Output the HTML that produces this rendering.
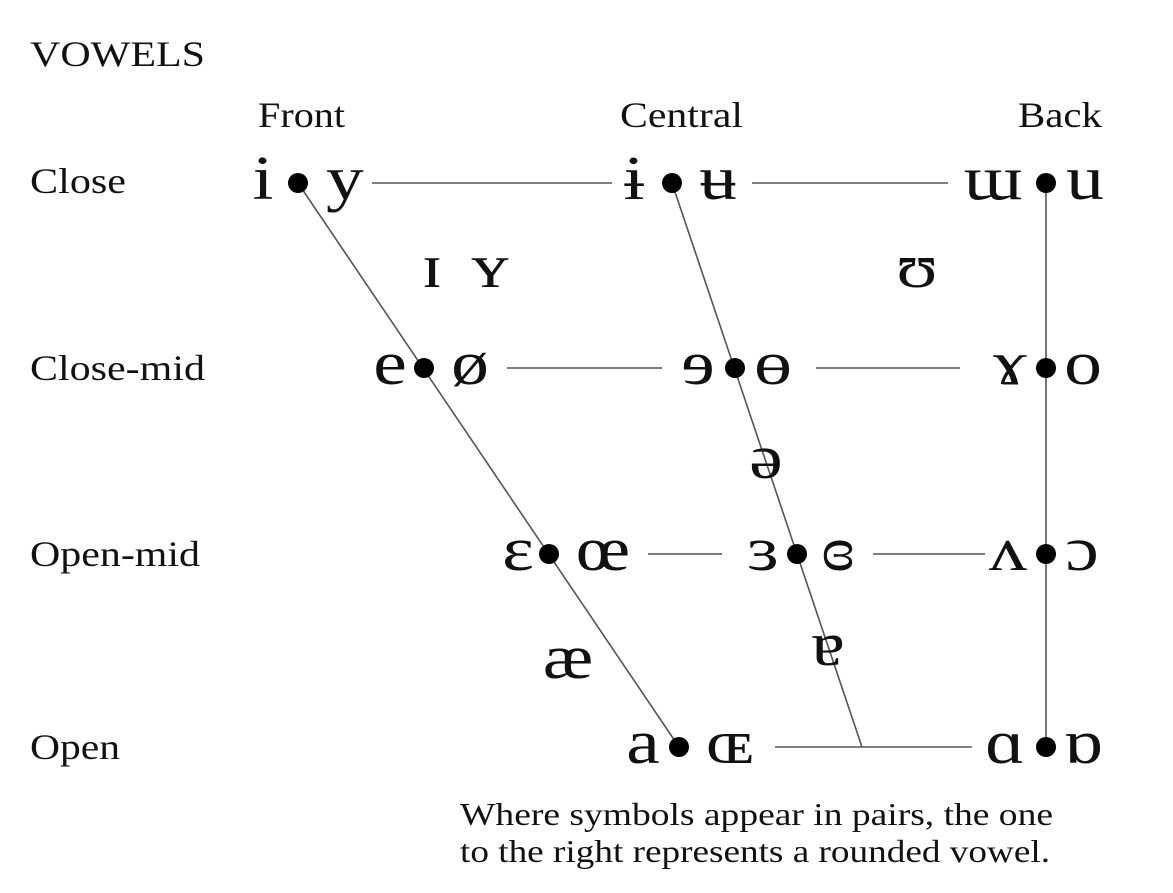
<!DOCTYPE html>
<html><head><meta charset="utf-8"><style>
html,body{margin:0;padding:0;background:#fff;}
svg{display:block;}
text{font-family:"Liberation Serif","DejaVu Serif",serif;fill:#111;}
.v{font-size:62px;text-anchor:middle;transform-box:fill-box;transform-origin:center;transform:scaleX(1.22);}
.l{font-size:36px;}
.f{font-size:32px;}
</style></head><body>
<svg width="1173" height="893" viewBox="0 0 1173 893">
<g stroke="#555" stroke-width="1.6" fill="none">
<line x1="298" y1="183" x2="679" y2="747"/>
<line x1="672" y1="183" x2="862" y2="747"/>
<line x1="1046" y1="183" x2="1046" y2="747"/>
<line x1="372" y1="183" x2="612" y2="183"/>
<line x1="752" y1="183" x2="948" y2="183"/>
<line x1="507" y1="368" x2="662" y2="368"/>
<line x1="816" y1="368" x2="960" y2="368"/>
<line x1="648" y1="554" x2="722" y2="554"/>
<line x1="873" y1="554" x2="985" y2="554"/>
<line x1="775" y1="747" x2="972" y2="747"/>
</g>
<g fill="#000">
<circle cx="298" cy="183" r="10"/><circle cx="672" cy="183" r="10"/><circle cx="1046" cy="183" r="10"/>
<circle cx="424" cy="368" r="10"/><circle cx="735" cy="368" r="10"/><circle cx="1046" cy="368" r="10"/>
<circle cx="549" cy="554" r="10"/><circle cx="797" cy="554" r="10"/><circle cx="1046" cy="554" r="10"/>
<circle cx="679" cy="747" r="10"/><circle cx="1046" cy="747" r="10"/>
</g>
<text class="l" x="30" y="66" textLength="175" lengthAdjust="spacingAndGlyphs">VOWELS</text>
<text class="l" x="258" y="127" textLength="87" lengthAdjust="spacingAndGlyphs">Front</text>
<text class="l" x="620" y="127" textLength="123" lengthAdjust="spacingAndGlyphs">Central</text>
<text class="l" x="1018" y="127" textLength="84" lengthAdjust="spacingAndGlyphs">Back</text>
<text class="l" x="30" y="193" textLength="96" lengthAdjust="spacingAndGlyphs">Close</text>
<text class="l" x="30" y="380" textLength="175" lengthAdjust="spacingAndGlyphs">Close-mid</text>
<text class="l" x="30" y="566" textLength="170" lengthAdjust="spacingAndGlyphs">Open-mid</text>
<text class="l" x="30" y="759" textLength="90" lengthAdjust="spacingAndGlyphs">Open</text>

<text class="v" x="263" y="199">i</text><text class="v" x="345" y="199">y</text>
<text class="v" x="634" y="199">ɨ</text><text class="v" x="718" y="199">ʉ</text>
<text class="v" x="993" y="199">ɯ</text><text class="v" x="1085" y="199">u</text>
<text class="v" x="432" y="287">ɪ</text><text class="v" x="490" y="287">ʏ</text>
<text class="v" x="917" y="287">ʊ</text>
<text class="v" x="390" y="384">e</text><text class="v" x="470" y="384">ø</text>
<text class="v" x="698" y="384">ɘ</text><text class="v" x="773" y="384">ɵ</text>
<text class="v" x="1010" y="384">ɤ</text><text class="v" x="1083" y="384">o</text>
<text class="v" x="766" y="478">ə</text>
<text class="v" x="518" y="570">ɛ</text><text class="v" x="603" y="570">œ</text>
<text class="v" x="763" y="570">ɜ</text><text class="v" x="838" y="570">ɞ</text>
<text class="v" x="1008" y="570">ʌ</text><text class="v" x="1082" y="570">ɔ</text>
<text class="v" x="568" y="678">æ</text>
<text class="v" x="828" y="665">ɐ</text>
<text class="v" x="643" y="763">a</text><text class="v" x="730" y="763">ɶ</text>
<text class="v" x="1005" y="763">ɑ</text><text class="v" x="1083" y="763">ɒ</text>

<text class="f" x="460" y="825" textLength="593" lengthAdjust="spacingAndGlyphs">Where symbols appear in pairs, the one</text>
<text class="f" x="460" y="862" textLength="590" lengthAdjust="spacingAndGlyphs">to the right represents a rounded vowel.</text>
</svg>
</body></html>
